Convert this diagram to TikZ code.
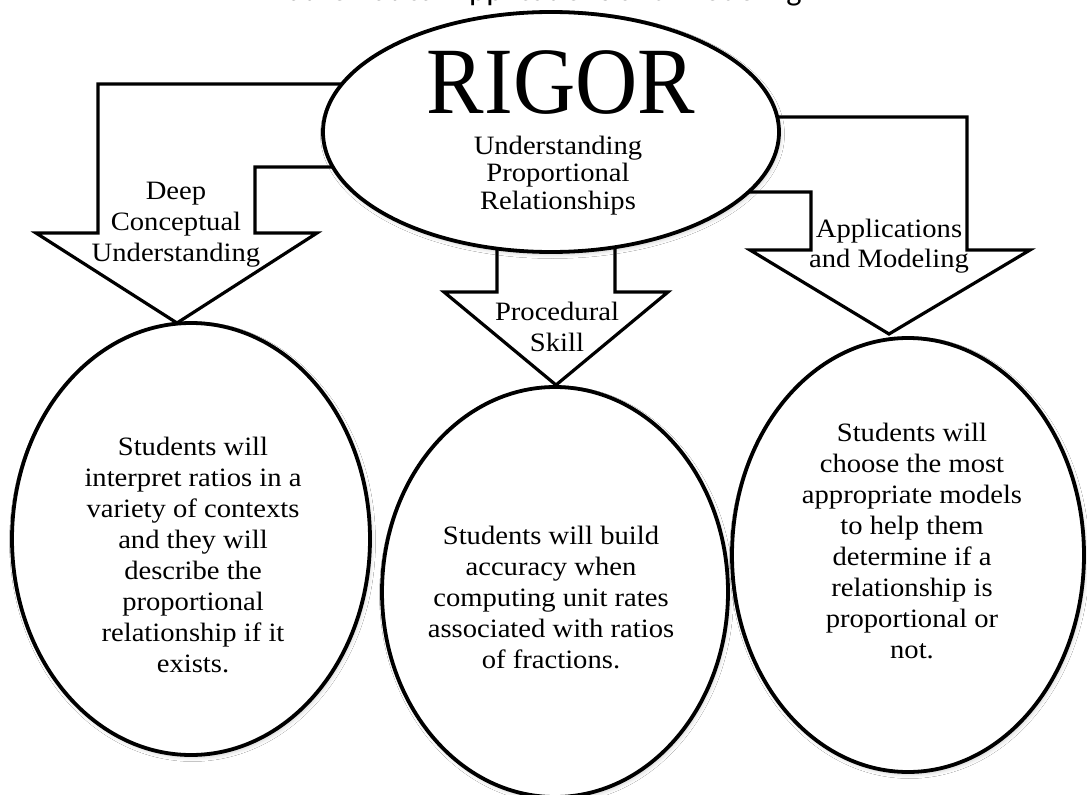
\documentclass[tikz,border=0pt]{standalone}
\usepackage{fontspec}
\usepackage{graphicx}
\setmainfont{Liberation Serif}[FakeStretch=1.08]
\newfontfamily\titlefont{Carlito}
\usetikzlibrary{shapes.geometric,shadows.blur}

\begin{document}
\begin{tikzpicture}[x=1pt,y=-1pt,
  blockarrow/.style={draw=black, fill=white, line width=3.2pt, line join=miter},
  bubble/.style={ellipse, draw=black, fill=white, line width=3.8pt, inner sep=0pt,
    blur shadow={shadow xshift=1.5pt, shadow yshift=-2.5pt, shadow blur radius=4pt,
      shadow blur steps=8, shadow opacity=18}},
  % multi-line texts: the base anchor sits on the last line
  bodytext/.style={align=center, anchor=base, inner sep=0pt, font=\fontsize{26.5}{31}\selectfont},
]
\clip (0,0) rectangle (1087,795);
\fill[white] (0,0) rectangle (1087,795);

% heading, running off the top edge
\node[anchor=base, inner sep=0pt, font=\titlefont\fontsize{32.5}{36}\selectfont] (title) at (531,0.5)
  {Mathematical Applications and Modeling};

% bent block arrows leaving the central ellipse
\draw[blockarrow] (400,84) -- (98,84) -- (98,233) -- (36,233) -- (177,323) -- (317,233)
  -- (255,233) -- (255,167) -- (400,167) -- cycle;
\draw[blockarrow] (497,230) -- (497,292) -- (444,292) -- (556,385) -- (668,292)
  -- (615,292) -- (615,230) -- cycle;
\draw[blockarrow] (700,117) -- (967,117) -- (967,250) -- (1030,250) -- (889,334) -- (750,250)
  -- (811,250) -- (811,192) -- (700,192) -- cycle;

% ellipses
\node[bubble, minimum width=456, minimum height=240] (rigor) at (551,132) {};
\node[bubble, minimum width=358, minimum height=432] (deep) at (191,539) {};
\node[bubble, minimum width=346, minimum height=410] (proc) at (555,592) {};
\node[bubble, minimum width=352, minimum height=434] (appl) at (908,555) {};

% central ellipse text
\node[anchor=base, inner sep=0pt, font=\fontsize{95}{95}\selectfont] (rigortxt) at (561,113)
  {\scalebox{0.84}[1]{RIGOR}};
\node[bodytext, font=\fontsize{26.5}{27.5}\selectfont] (rigorsub) at (558,209)
  {Understanding\\Proportional\\Relationships};

% arrow labels
\node[bodytext] (deeplbl) at (176,261) {Deep\\Conceptual\\Understanding};
\node[bodytext] (proclbl) at (557,351) {Procedural\\Skill};
\node[bodytext, font=\fontsize{26.5}{30}\selectfont] (appllbl) at (889,267) {Applications\\and Modeling};

% ellipse texts
\node[bodytext] (deeptxt) at (193,672)
  {Students will\\interpret ratios in a\\variety of contexts\\and they will\\describe the\\proportional\\relationship if it\\exists.};
\node[bodytext] (proctxt) at (551,668)
  {Students will build\\accuracy when\\computing unit rates\\associated with ratios\\of fractions.};
\node[bodytext] (appltxt) at (912,658)
  {Students will\\choose the most\\appropriate models\\to help them\\determine if a\\relationship is\\proportional or\\not.};
\end{tikzpicture}
\end{document}
